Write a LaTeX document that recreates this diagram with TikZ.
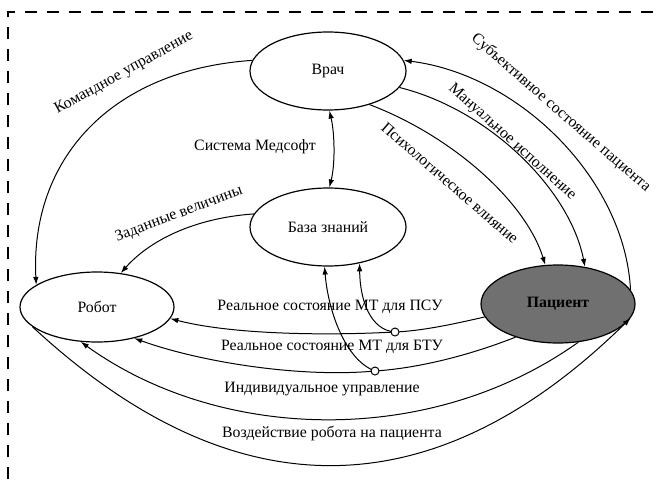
\documentclass[tikz,border=0pt]{standalone}
\usepackage{fontspec}
\setmainfont{Liberation Serif}
\usetikzlibrary{arrows.meta,shapes.geometric}
\begin{document}
\begin{tikzpicture}[x=1pt,y=-1pt,
  every node/.style={font=\rmfamily\fontsize{15.8}{18}\selectfont},
  ell/.style={ellipse,draw,line width=1.2pt,inner sep=0pt,minimum width=156pt,minimum height=78pt},
  conn/.style={line width=1pt,-{Latex[length=8pt,width=5.5pt]}},
  conntwo/.style={line width=1pt,{Latex[length=8pt,width=5.5pt]}-{Latex[length=8pt,width=5.5pt]}},
  plain/.style={line width=1pt},
  junct/.style={circle,draw,line width=1pt,fill=white,inner sep=0pt,minimum size=8pt},
  lbl/.style={inner sep=1pt},
  frame/.style={line width=1.3pt,dash pattern=on 12pt off 10pt}]
\useasboundingbox (0,0) rectangle (658,479);
\draw[frame] (8,479) -- (8,12) -- (658,12);

\node[ell] (vrach) at (328,71) {Врач};
\node[ell] (baza) at (328,227) {База знаний};
\node[ell,minimum width=154pt,minimum height=70pt] (robot) at (97,307) {Робот};
\node[ell,fill=black!56,minimum width=154pt] (patient) at (558,304) {\bfseries Пациент};

% junctions
\coordinate (c1p) at (395,332);
\coordinate (c2p) at (375,371);

% Doctor -> Robot
\draw[conn] (vrach.172) .. controls (110,70) and (30,160) .. (robot.160);
% Knowledge base -> Robot
\draw[conn] (baza.170) .. controls (195,218) and (150,240) .. (robot.55);
% Doctor <-> knowledge base
\draw[conntwo] (vrach.-88) .. controls (335,135) and (335,165) .. (baza.88);
% Doctor -> Patient
\draw[conn] (vrach.-39) .. controls (450,135) and (525,200) .. (patient.108);
\draw[conn] (vrach.-13) .. controls (490,110) and (570,190) .. (patient.54);
% Patient -> Doctor
\draw[conn] (patient.11) .. controls (625,180) and (520,75) .. (vrach.8);

% PSU
\draw[plain] (patient.-170) .. controls (450,325) and (420,331) .. (c1p);
\draw[conn] (c1p) .. controls (320,336) and (230,334) .. (robot.-9);
\draw[conn] (c1p) .. controls (370,330) and (360,300) .. (baza.-49);
% BTU
\draw[plain] (patient.-142) .. controls (470,355) and (420,368) .. (c2p);
\draw[conn] (c2p) .. controls (300,378) and (200,362) .. (robot.-40);
\draw[conn] (c2p) .. controls (345,360) and (328,310) .. (baza.-95);
\node[junct] (c1) at (c1p) {};
\node[junct] (c2) at (c2p) {};

% individual control
\draw[conn] (patient.-62) .. controls (430,448) and (220,442) .. (robot.-115);
% robot action on patient
\draw[conn] (robot.-163) .. controls (230,510) and (430,515) .. (patient.-11);

% labels
\node[lbl,rotate=29] (l1) at (124,73) {Командное управление};
\node[lbl,rotate=21] (l2) at (179,214) {Заданные величины};
\node[lbl] (l3) at (255,147) {Система Медсофт};
\node[lbl,rotate=-41] (l4) at (450,183) {Психологическое влияние};
\node[lbl,rotate=-42] (l5) at (512,142) {Мануальное исполнение};
\node[lbl,rotate=-41] (l6) at (561,113) {Субъективное состояние пациента};
\node[lbl] (l7) at (330,307) {Реальное состояние МТ для ПСУ};
\node[lbl] (l8) at (332,347) {Реальное состояние МТ для БТУ};
\node[lbl] (l9) at (322,389) {Индивидуальное управление};
\node[lbl] (l10) at (332,434) {Воздействие робота на пациента};
\end{tikzpicture}
\end{document}
